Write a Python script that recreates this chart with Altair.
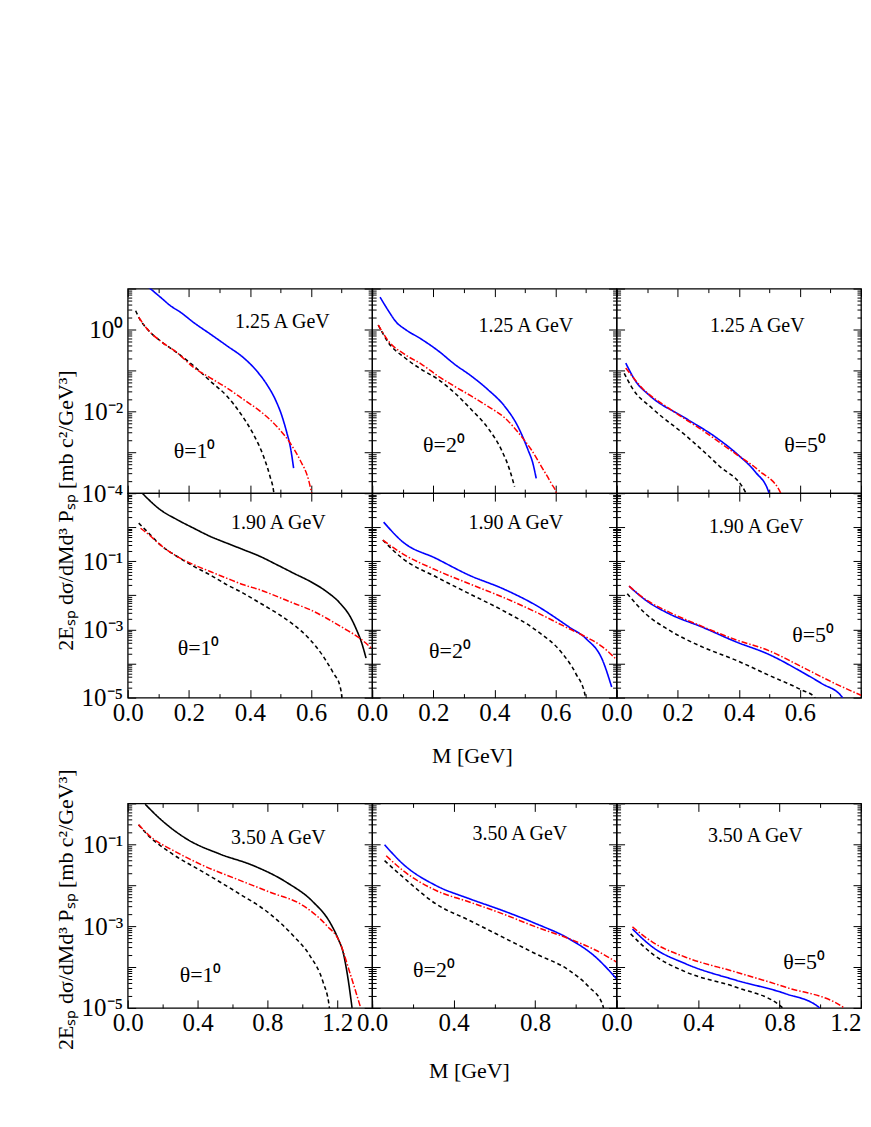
import altair as alt
import pandas as pd

FONT = "Liberation Serif"
ENERGY = ["1.25 A GeV", "1.90 A GeV", "3.50 A GeV"]
ANGLES = ["θ=1⁰", "θ=2⁰", "θ=5⁰"]
Y_TITLE = "2Eₛₚ dσ/dMd³ Pₛₚ [mb c²/GeV³]"
X_TITLE = "M [GeV]"

# (M [GeV], log10 of 2E dsigma/dM d3P)
# row 0 : 1.25 A GeV
r0c0_solid = [(0.069, 1.03), (0.107, 0.79), (0.14, 0.58), (0.173, 0.42), (0.216, 0.17), (0.27, -0.11), (0.325, -0.40), (0.379, -0.69), (0.423, -1.02), (0.455, -1.34), (0.483, -1.71), (0.505, -2.12), (0.521, -2.53), (0.532, -2.86), (0.543, -3.39)]
r0c0_dash = [(0.026, 0.46), (0.036, 0.30), (0.064, 0.01), (0.107, -0.28), (0.162, -0.57), (0.216, -0.89), (0.27, -1.26), (0.325, -1.63), (0.368, -2.04), (0.412, -2.57), (0.445, -3.11), (0.466, -3.60), (0.477, -3.93), (0.48, -4.1)]
r0c0_dashdot = [(0.036, 0.30), (0.064, 0.01), (0.107, -0.28), (0.162, -0.57), (0.216, -0.93), (0.27, -1.18), (0.325, -1.43), (0.379, -1.71), (0.434, -2.0), (0.488, -2.37), (0.532, -2.78), (0.564, -3.19), (0.592, -3.68), (0.602, -4.0), (0.605, -4.1)]

r0c1_solid = [(0.026, 0.79), (0.053, 0.46), (0.08, 0.17), (0.107, 0.01), (0.162, -0.24), (0.216, -0.52), (0.27, -0.85), (0.325, -1.14), (0.379, -1.47), (0.434, -1.88), (0.477, -2.37), (0.51, -2.94), (0.526, -3.27), (0.537, -3.64)]
r0c1_dash = [(0.02, 0.11), (0.053, -0.32), (0.107, -0.69), (0.162, -0.98), (0.216, -1.22), (0.27, -1.55), (0.325, -1.96), (0.379, -2.41), (0.423, -2.94), (0.45, -3.43), (0.466, -3.84)]
r0c1_dashdot = [(0.02, 0.11), (0.053, -0.28), (0.107, -0.61), (0.162, -0.85), (0.216, -1.14), (0.27, -1.39), (0.325, -1.63), (0.379, -1.88), (0.434, -2.16), (0.488, -2.61), (0.521, -2.94), (0.554, -3.35), (0.586, -3.76), (0.603, -4.01), (0.606, -4.1)]

r0c2_solid = [(0.030, -0.82), (0.063, -1.27), (0.106, -1.6), (0.226, -2.17), (0.324, -2.63), (0.40, -3.08), (0.455, -3.49), (0.498, -3.98), (0.503, -4.2)]
r0c2_dash = [(0.025, -1.07), (0.052, -1.44), (0.117, -1.93), (0.226, -2.59), (0.335, -3.33), (0.422, -3.98), (0.43, -4.2)]
r0c2_dashdot = [(0.030, -0.94), (0.085, -1.44), (0.172, -1.93), (0.28, -2.46), (0.39, -3.04), (0.466, -3.45), (0.536, -3.98), (0.54, -4.2)]

# row 1 : 1.90 A GeV
r1c0_solid = [(0.042, 1.05), (0.064, 0.85), (0.107, 0.51), (0.162, 0.22), (0.216, -0.03), (0.27, -0.27), (0.325, -0.47), (0.379, -0.66), (0.434, -0.86), (0.488, -1.10), (0.543, -1.35), (0.597, -1.59), (0.651, -1.89), (0.695, -2.23), (0.728, -2.62), (0.749, -3.01), (0.766, -3.40), (0.78, -3.84)]
r1c0_dash = [(0.036, 0.12), (0.064, -0.13), (0.107, -0.52), (0.162, -0.86), (0.216, -1.15), (0.27, -1.40), (0.325, -1.69), (0.379, -1.94), (0.434, -2.23), (0.488, -2.52), (0.543, -2.86), (0.597, -3.30), (0.64, -3.79), (0.673, -4.28), (0.695, -4.67), (0.70, -4.92), (0.702, -5.1)]
r1c0_dashdot = [(0.042, -0.03), (0.064, -0.18), (0.107, -0.52), (0.162, -0.86), (0.216, -1.10), (0.27, -1.30), (0.325, -1.50), (0.379, -1.69), (0.434, -1.84), (0.488, -2.03), (0.543, -2.23), (0.597, -2.42), (0.651, -2.67), (0.706, -2.96), (0.76, -3.26), (0.804, -3.60)]

r1c1_solid = [(0.0376, 0.15), (0.10, -0.43), (0.21, -0.92), (0.318, -1.41), (0.427, -1.80), (0.536, -2.29), (0.645, -2.93), (0.70, -3.27), (0.754, -3.90), (0.784, -4.69)]
r1c1_dash = [(0.035, -0.38), (0.10, -0.92), (0.21, -1.46), (0.318, -1.95), (0.427, -2.44), (0.536, -3.02), (0.623, -3.71), (0.667, -4.30), (0.697, -4.93), (0.70, -5.2)]
r1c1_dashdot = [(0.035, -0.38), (0.10, -0.78), (0.21, -1.26), (0.318, -1.66), (0.427, -2.05), (0.536, -2.49), (0.645, -2.98), (0.70, -3.22), (0.754, -3.51), (0.797, -3.86)]

r1c2_solid = [(0.041, -1.73), (0.095, -2.14), (0.172, -2.54), (0.28, -2.93), (0.39, -3.36), (0.498, -3.73), (0.607, -4.25), (0.672, -4.59), (0.737, -4.97), (0.745, -5.1)]
r1c2_dash = [(0.035, -1.95), (0.095, -2.54), (0.172, -3.02), (0.28, -3.51), (0.39, -3.90), (0.498, -4.34), (0.607, -4.78), (0.645, -4.96), (0.655, -5.1)]
r1c2_dashdot = [(0.041, -1.73), (0.095, -2.12), (0.172, -2.49), (0.28, -2.91), (0.39, -3.30), (0.498, -3.62), (0.607, -4.10), (0.716, -4.59), (0.80, -4.93)]

# row 2 : 3.50 A GeV
r2c0_solid = [(0.10, -0.02), (0.186, -0.38), (0.338, -0.87), (0.529, -1.24), (0.719, -1.52), (0.91, -1.93), (1.062, -2.41), (1.157, -2.90), (1.205, -3.31), (1.233, -3.63), (1.262, -4.29), (1.285, -5.0)]
r2c0_dash = [(0.062, -0.52), (0.11, -0.75), (0.243, -1.20), (0.433, -1.68), (0.624, -2.17), (0.814, -2.70), (0.947, -3.23), (1.043, -3.72), (1.119, -4.37), (1.153, -4.93), (1.158, -5.1)]
r2c0_dashdot = [(0.062, -0.52), (0.147, -0.87), (0.243, -1.11), (0.433, -1.52), (0.624, -1.85), (0.814, -2.17), (1.005, -2.50), (1.138, -2.98), (1.214, -3.39), (1.271, -4.12), (1.333, -4.98)]

r2c1_solid = [(0.061, -1.01), (0.151, -1.48), (0.314, -2.01), (0.477, -2.33), (0.641, -2.62), (0.804, -2.94), (0.967, -3.31), (1.098, -3.76), (1.20, -4.29)]
r2c1_dash = [(0.061, -1.40), (0.151, -1.80), (0.314, -2.46), (0.477, -2.86), (0.641, -3.27), (0.804, -3.68), (0.967, -4.08), (1.065, -4.49), (1.13, -4.90), (1.14, -5.1)]
r2c1_dashdot = [(0.069, -1.28), (0.151, -1.64), (0.314, -2.13), (0.477, -2.41), (0.641, -2.70), (0.804, -3.02), (0.967, -3.31), (1.098, -3.59), (1.20, -3.88)]

r2c2_solid = [(0.078, -3.07), (0.176, -3.51), (0.339, -3.92), (0.584, -4.32), (0.828, -4.65), (0.992, -4.98), (1.0, -5.05)]
r2c2_dash = [(0.069, -3.19), (0.176, -3.68), (0.339, -4.12), (0.584, -4.49), (0.811, -4.98), (0.82, -5.05)]
r2c2_dashdot = [(0.078, -3.02), (0.176, -3.39), (0.339, -3.76), (0.584, -4.12), (0.828, -4.49), (1.114, -4.99), (1.12, -5.05)]

SERIES = {
    (0, 0): (r0c0_solid, r0c0_dash, r0c0_dashdot),
    (0, 1): (r0c1_solid, r0c1_dash, r0c1_dashdot),
    (0, 2): (r0c2_solid, r0c2_dash, r0c2_dashdot),
    (1, 0): (r1c0_solid, r1c0_dash, r1c0_dashdot),
    (1, 1): (r1c1_solid, r1c1_dash, r1c1_dashdot),
    (1, 2): (r1c2_solid, r1c2_dash, r1c2_dashdot),
    (2, 0): (r2c0_solid, r2c0_dash, r2c0_dashdot),
    (2, 1): (r2c1_solid, r2c1_dash, r2c1_dashdot),
    (2, 2): (r2c2_solid, r2c2_dash, r2c2_dashdot),
}
SOLID_COLOR = {(1, 0): "black", (2, 0): "black"}

ROW_YEXP = [(-4, 1), (-5, 1), (-5, 0)]
ROW_YPARITY = [0, 1, 1]
ROW_YMAXLAB = [0, -1, -1]
X_MAX = {(2, 0): 1.4, (2, 1): 1.2, (2, 2): 1.2}
X_LABMAX = {(2, 0): 1.25, (2, 1): 0.85, (2, 2): 1.25}

# annotation positions inside each panel (px)
ENERGY_POS = {(0, 0): (155, 33), (0, 1): (154, 38), (0, 2): (141, 38),
              (1, 0): (151, 30), (1, 1): (144, 30), (1, 2): (140, 34),
              (2, 0): (151, 35), (2, 1): (148, 31), (2, 2): (139, 33)}
ANGLE_POS = {(0, 0): (67, 163), (0, 1): (72, 157), (0, 2): (189, 157),
             (1, 0): (71, 155), (1, 1): (78, 158), (1, 2): (197, 142),
             (2, 0): (73, 172), (2, 1): (62, 167), (2, 2): (188, 159)}

W, H = 245, 205
GAP = 106
TICK_FS = 25

E = "round(log(datum.value)/LN10)"
YMAJ = f"(abs(log(datum.value)/LN10 - {E}) < 0.01)"
SUP = "['⁰','¹','²','³','⁴','⁵']"


def y_ticks(lo, hi):
    vals = []
    for e in range(lo, hi):
        for k in range(1, 10):
            vals.append(float(f"{k}e{e}"))
    vals.append(float(f"1e{hi}"))
    return vals


def panel(r, c):
    rows = []
    colors = [SOLID_COLOR.get((r, c), "#0000ff"), "black", "#ff0000"]
    for name, col, pts in zip(["solid", "dash", "dashdot"], colors, SERIES[(r, c)]):
        for m, lg in pts:
            rows.append({"M": m, "v": 10 ** lg, "series": name, "color": col})
    df = pd.DataFrame(rows)

    xmax = X_MAX.get((r, c), 0.8)
    lo, hi = ROW_YEXP[r]
    if r < 2:
        xt = [round(i * 0.1, 1) for i in range(9)]
        xmaj = "(round(datum.value*10) % 2 == 0)"
        xlabmax = 0.65
    else:
        xt = [round(i * 0.2, 1) for i in range(int(round(xmax / 0.2)) + 1)]
        xmaj = "(round(datum.value*10) % 4 == 0)"
        xlabmax = X_LABMAX[(r, c)]
    yt = y_ticks(lo, hi)

    xscale = alt.Scale(domain=[0, xmax], nice=False, zero=False)
    yscale = alt.Scale(type="log", domain=[10.0 ** lo, 10.0 ** hi], nice=False)

    xtick = {"expr": f"{xmaj} ? -8 : -4"}
    ytick = {"expr": f"{YMAJ} ? -8 : -4"}

    xlab_expr = f"({xmaj} && datum.value < {xlabmax}) ? format(datum.value, '.1f') : ''"
    ylab_expr = (f"({YMAJ} && abs({E}) % 2 == {ROW_YPARITY[r]} && {E} <= {ROW_YMAXLAB[r]}) ? "
                 f"'10' + ({E} < 0 ? '⁻' : '') + {SUP}[abs({E})] : ''")

    bx = dict(values=xt, orient="bottom", domain=False, grid=False, tickSize=xtick,
              labelExpr=xlab_expr, labels=(r > 0), labelPadding=11, labelOverlap=False,
              labelFlush=False, labelBound=False, labelFontSize=TICK_FS)
    if (r, c) == (2, 2):
        bx.update(labelAlign={"condition": {"test": "datum.value > 1.1", "value": "right"},
                              "value": "center"})
    if c == 1 and r > 0:
        bx.update(title=X_TITLE, titleFontSize=22, titleX=100 if r == 1 else 97,
                  titlePadding=16 if r == 1 else 21)
    else:
        bx.update(title=None)

    ly = dict(values=yt, orient="left", domain=False, grid=False, tickSize=ytick,
              labelExpr=ylab_expr, labels=(c == 0), labelPadding=13, labelOverlap=False,
              labelFlush=False, labelBound=False, labelFontSize=TICK_FS)
    if c == 0 and r == 1:
        ly.update(title=Y_TITLE, titleFontSize=22, titleX=-62, titleY=17,
                  titleBaseline="middle", titleAngle=270)
    elif c == 0 and r == 2:
        ly.update(title=Y_TITLE, titleFontSize=22, titleX=-62, titleY=106,
                  titleBaseline="middle", titleAngle=270)
    else:
        ly.update(title=None)

    tx = dict(values=xt, orient="top", domain=False, grid=False, tickSize=xtick,
              labels=False, title=None)
    ry = dict(values=yt, orient="right", domain=False, grid=False, tickSize=ytick,
              labels=False, title=None)

    base = alt.Chart(df)
    lines = base.mark_line(clip=True, interpolate="monotone").encode(
        x=alt.X("M:Q", scale=xscale, axis=alt.Axis(**bx)),
        y=alt.Y("v:Q", scale=yscale, axis=alt.Axis(**ly)),
        color=alt.Color("color:N", scale=None),
        strokeDash=alt.StrokeDash("series:N", legend=None,
                                  scale=alt.Scale(domain=["solid", "dash", "dashdot"],
                                                  range=[[1, 0], [4, 3], [6, 2, 1.5, 2]])),
        strokeWidth=alt.StrokeWidth("series:N", legend=None,
                                    scale=alt.Scale(domain=["solid", "dash", "dashdot"],
                                                    range=[1.6, 1.5, 1.4])),
        detail="series:N",
    )
    ghost = base.mark_line(opacity=0, clip=True).encode(
        x=alt.X("M:Q", scale=xscale, axis=alt.Axis(**tx)),
        y=alt.Y("v:Q", scale=yscale, axis=alt.Axis(**ry)),
        detail="series:N",
    )
    ex, ey = ENERGY_POS[(r, c)]
    ax, ay = ANGLE_POS[(r, c)]
    t1 = alt.Chart(pd.DataFrame({"t": [ENERGY[r]]})).mark_text(
        font=FONT, fontSize=20, align="center", baseline="middle", color="black"
    ).encode(text="t:N", x=alt.value(ex), y=alt.value(ey))
    t2 = alt.Chart(pd.DataFrame({"t": [ANGLES[c]]})).mark_text(
        font=FONT, fontSize=22, align="center", baseline="middle", color="black"
    ).encode(text="t:N", x=alt.value(ax), y=alt.value(ay))
    return alt.layer(lines, ghost, t1, t2).resolve_axis(
        x="independent", y="independent").properties(width=W, height=H)


def spacer():
    return alt.Chart(pd.DataFrame({"a": [0]})).mark_point(opacity=0).encode(
        x=alt.X("a:Q", axis=None), y=alt.Y("a:Q", axis=None)
    ).properties(width=W, height=GAP, view=alt.ViewBackground(strokeOpacity=0))


cells = [panel(0, c) for c in range(3)] + [panel(1, c) for c in range(3)] \
    + [spacer() for _ in range(3)] + [panel(2, c) for c in range(3)]

chart = alt.concat(*cells, columns=3, spacing=0, bounds="flush").properties(
    padding={"left": 46, "top": 267, "right": 0, "bottom": 0}
).configure_view(stroke="black", strokeWidth=1.3).configure_axis(
    labelFont=FONT, titleFont=FONT, labelColor="black", titleColor="black",
    tickColor="black", tickWidth=1, titleFontWeight="normal"
)

chart.save("out.html", embed_options={"renderer": "svg", "actions": False})
